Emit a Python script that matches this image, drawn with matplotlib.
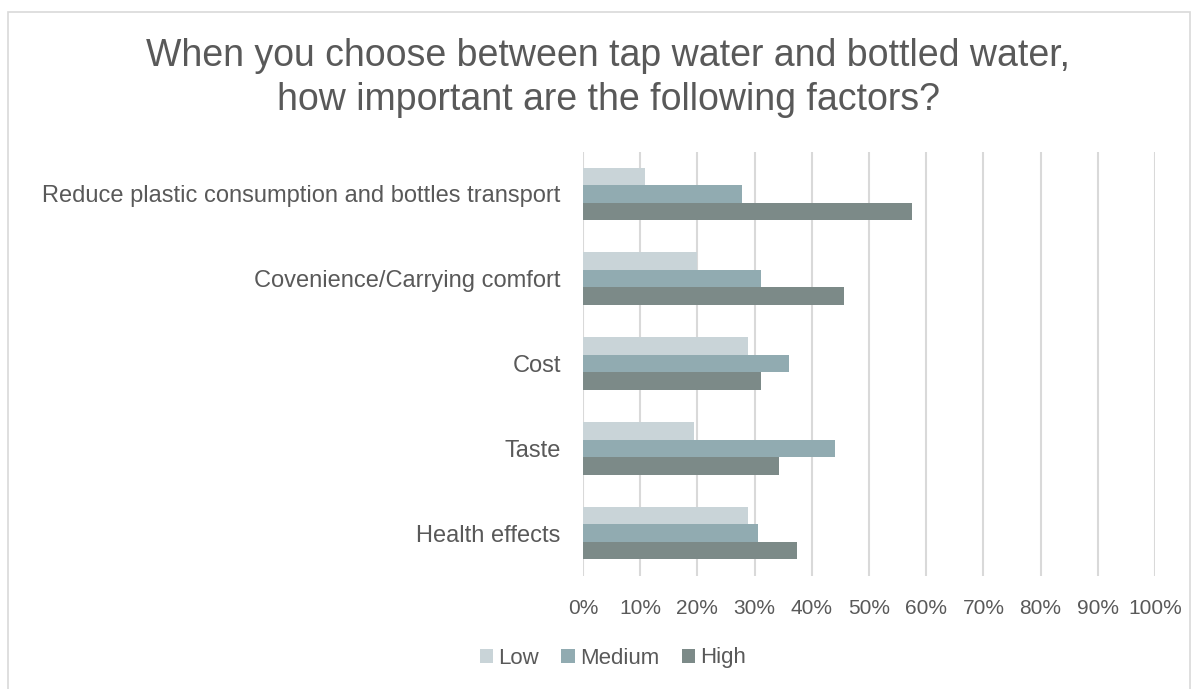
import matplotlib
matplotlib.use("Agg")
import matplotlib.pyplot as plt
import numpy as np
from matplotlib.patches import Rectangle

categories = ["Reduce plastic consumption and bottles transport",
              "Covenience/Carrying comfort",
              "Cost",
              "Taste",
              "Health effects"]
series_names = ["Low", "Medium", "High"]
low = [10.9, 19.9, 28.9, 19.4, 28.9]
medium = [27.8, 31.1, 36.1, 44.1, 30.6]
high = [57.6, 45.7, 31.1, 34.3, 37.4]
xticks = [0, 10, 20, 30, 40, 50, 60, 70, 80, 90, 100]
xtick_labels = [f"{v}%" for v in xticks]
title = "When you choose between tap water and bottled water,\nhow important are the following factors?"

colors = ["#C9D4D8", "#91ABB1", "#7C8A88"]
text_color = "#595959"

plt.rcParams['font.family'] = ['Liberation Sans', 'DejaVu Sans']

W, H = 1197, 689
fig = plt.figure(figsize=(W / 100, H / 100), dpi=100)
fig.patch.set_facecolor("white")

# chart border
fig.patches.append(Rectangle((8 / W, -0.01), (1190 - 8) / W, 1 - 12 / H + 0.01,
                             transform=fig.transFigure, fill=False,
                             edgecolor="#D9D9D9", linewidth=1.2))

left, right = 583, 1155
top, bottom = 151.5, 575.5
ax = fig.add_axes([left / W, 1 - bottom / H, (right - left) / W, (bottom - top) / H])

n = len(categories)
y = np.arange(n)
bh = 0.207
for i, (vals, name) in enumerate(zip([low, medium, high], series_names)):
    ax.barh(y + (i - 1) * bh, vals, height=bh, color=colors[i], label=name,
            edgecolor="none", zorder=3)

ax.set_xlim(0, 100)
ax.set_ylim(n - 0.5, -0.5)
ax.set_xticks(xticks)
ax.set_xticklabels(xtick_labels)
ax.set_yticks(y)
ax.set_yticklabels(categories)
ax.tick_params(axis="both", length=0, colors=text_color)
ax.tick_params(axis="x", pad=17, labelsize=15)
ax.tick_params(axis="y", pad=16, labelsize=17)
ax.grid(axis="x", color="#D9D9D9", linewidth=1.5, zorder=0)
for s in ax.spines.values():
    s.set_visible(False)

fig.text(0.5 * (140 + 1077) / W, 1 - 78 / H, title, ha="center", va="center",
         fontsize=27, color=text_color, linespacing=1.27)

leg = fig.legend(loc="center", bbox_to_anchor=(613 / W, 1 - 658 / H), ncol=3,
                 frameon=False, fontsize=16, handlelength=0.6, handleheight=0.6,
                 handletextpad=0.25, columnspacing=1.0, labelcolor=text_color)

fig.savefig("out.png", dpi=100, facecolor="white")
